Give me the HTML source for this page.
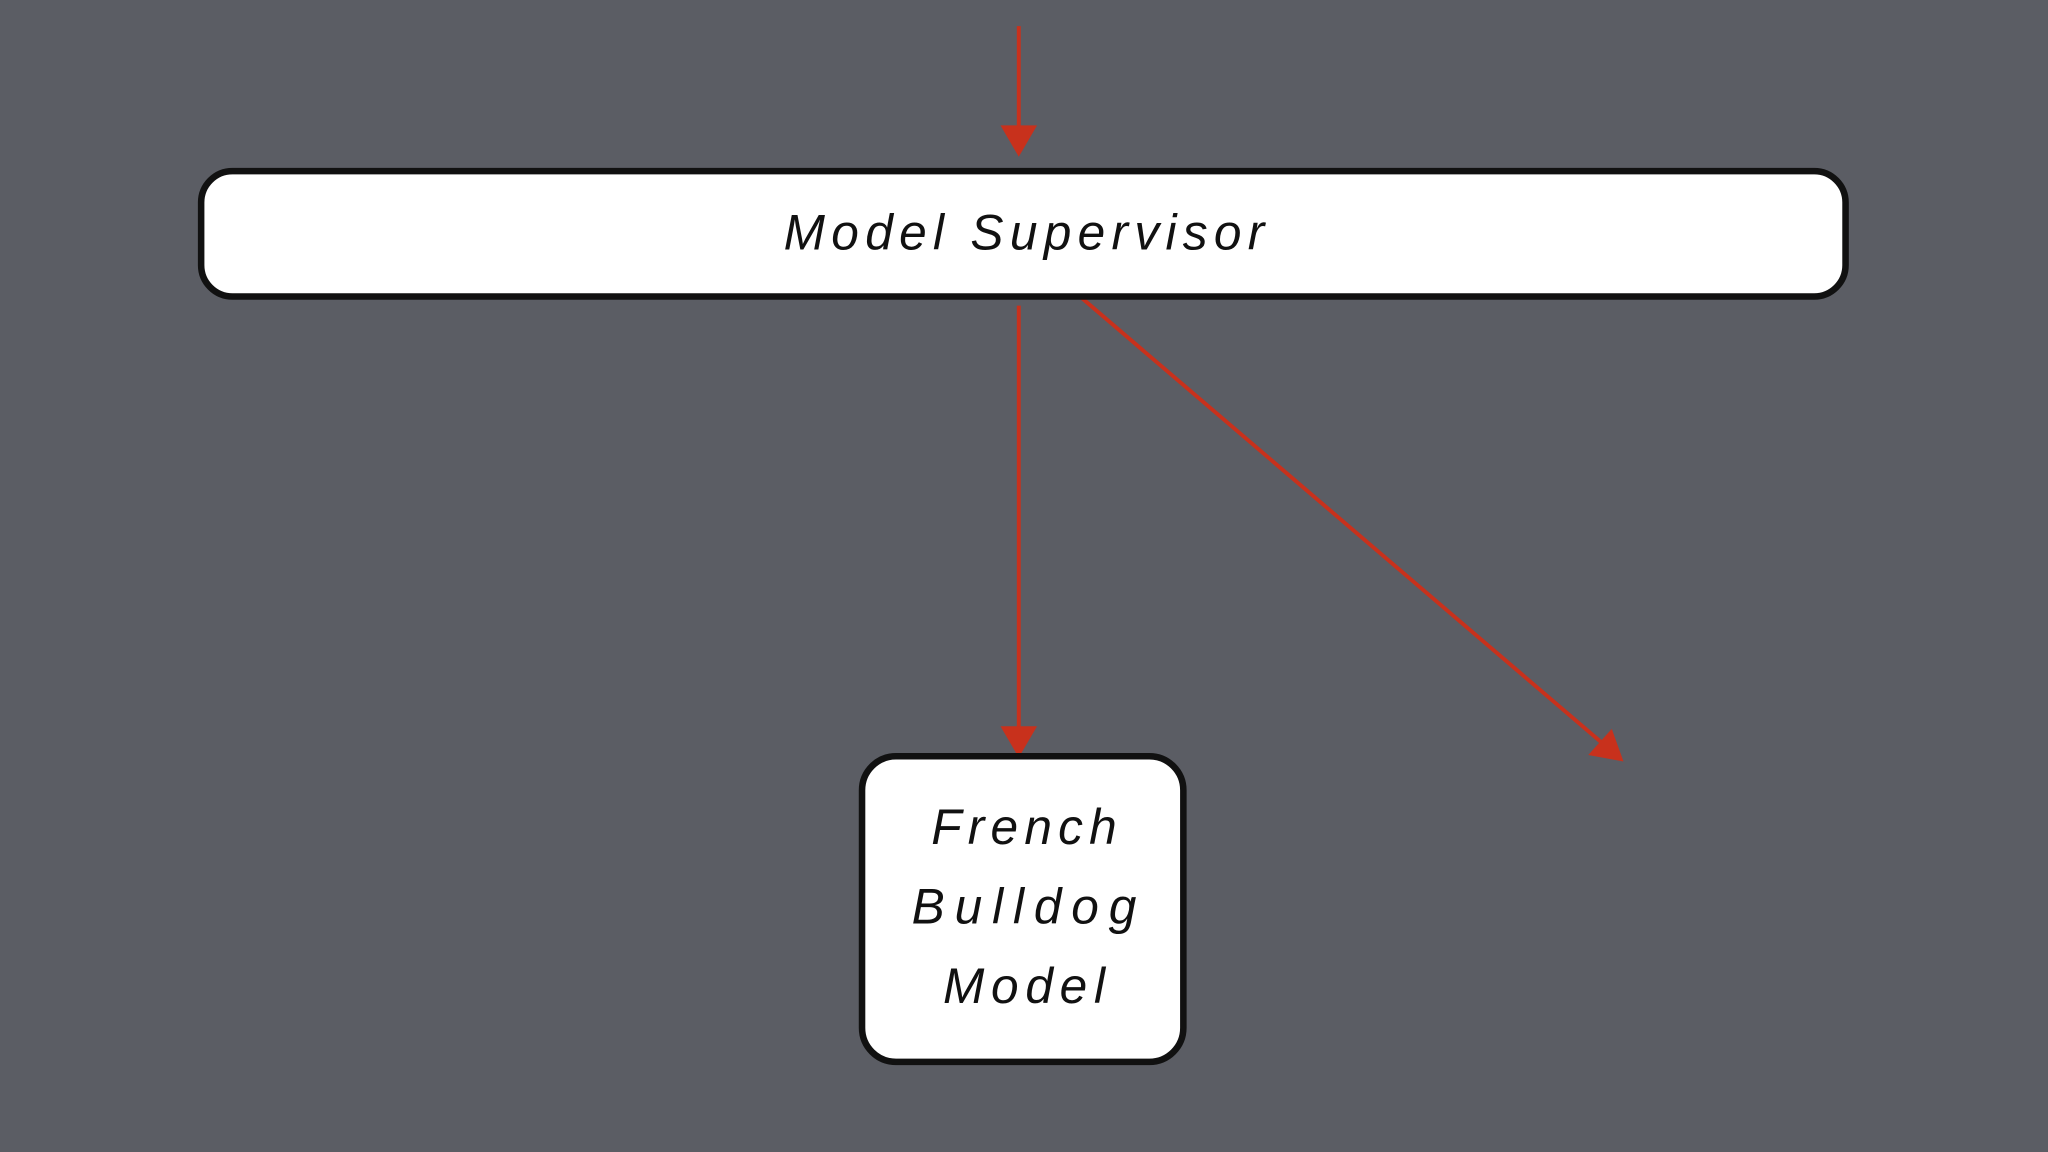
<!DOCTYPE html>
<html><head><meta charset="utf-8"><style>
html,body{margin:0;padding:0;background:#5b5d64;}
svg{display:block}
</style></head><body>
<svg width="2048" height="1152" viewBox="0 0 1568 882" xmlns="http://www.w3.org/2000/svg">
<rect width="1568" height="882" fill="#5b5d64"/>
<g stroke="#c8311c" stroke-width="3" fill="none">
<line x1="780" y1="20" x2="780" y2="100"/>
<line x1="780" y1="234" x2="780" y2="560"/>
<line x1="828" y1="228" x2="1228" y2="570"/>
</g>
<g fill="#c8311c">
<polygon points="766,96 794,96 780,120"/>
<polygon points="766,556 794,556 780,580"/>
<polygon points="1216,578 1234,558 1243,583"/>
</g>
<rect x="154" y="131" width="1259" height="96" rx="24" fill="#fff" stroke="#111" stroke-width="5"/>
<rect x="660" y="579" width="246" height="234" rx="26" fill="#fff" stroke="#111" stroke-width="5"/>
<g font-family="Liberation Sans, sans-serif" font-style="italic" font-size="38" fill="#111" text-anchor="middle">
<text x="784" y="191" textLength="368" lengthAdjust="spacing">Model Supervisor</text>
<text x="784" y="646" textLength="142" lengthAdjust="spacing">French</text>
<text x="784" y="707" textLength="172" lengthAdjust="spacing">Bulldog</text>
<text x="784" y="768" textLength="124" lengthAdjust="spacing">Model</text>
</g>
</svg>
</body></html>
